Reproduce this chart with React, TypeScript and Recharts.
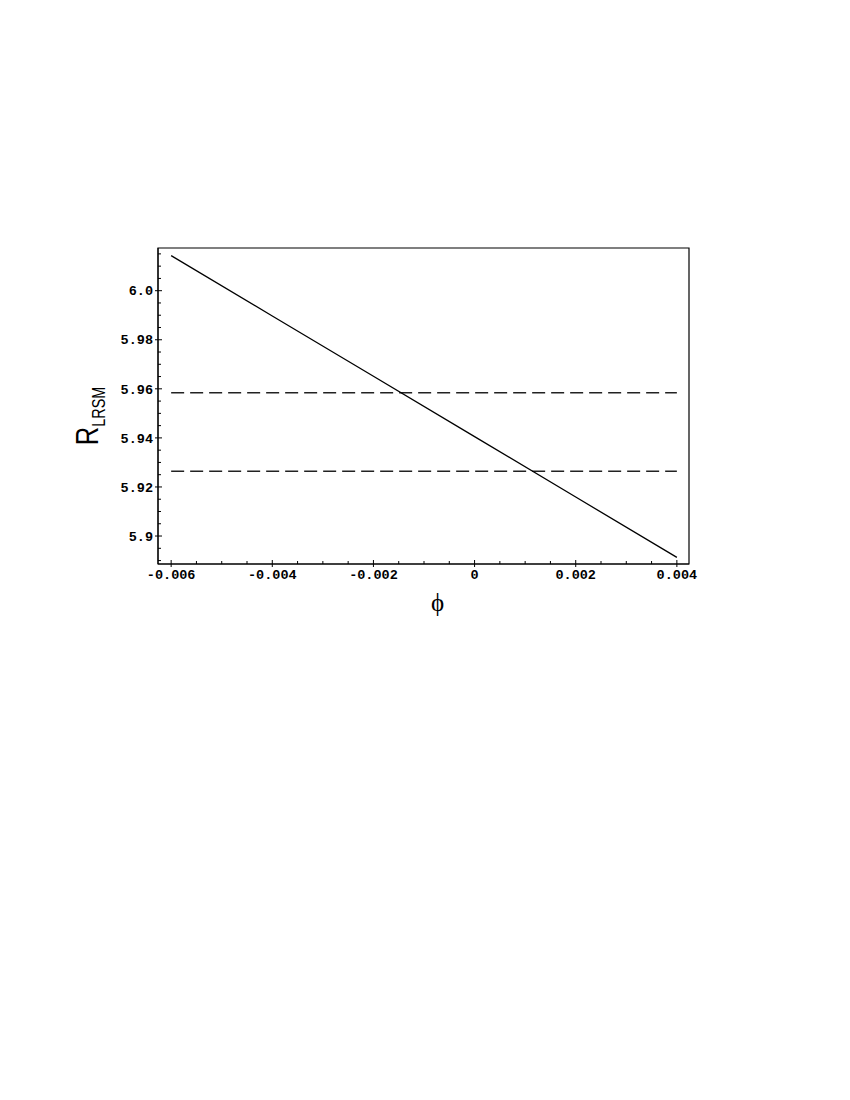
import React from 'react';
import { LineChart, Line, XAxis, YAxis, ReferenceArea } from 'recharts';

const phiValues = [-0.006, -0.004, -0.002, 0, 0.002, 0.004];
const rValues = [6.0143, 5.9897, 5.9651, 5.9405, 5.9159, 5.8913];

// the two horizontal bounds (dashed)
const boundX = [-0.006, 0.004];
const upperBound = 5.9584;
const lowerBound = 5.9264;

const xDomain: [number, number] = [-0.00626, 0.00424];
const yDomain: [number, number] = [5.8886, 6.0174];

const xMajorTicks = [-0.006, -0.004, -0.002, 0, 0.002, 0.004];
const xTickLabels = ['-0.006', '-0.004', '-0.002', '0', '0.002', '0.004'];
const yMajorTicks = [5.9, 5.92, 5.94, 5.96, 5.98, 6.0];
const yTickLabels = ['5.9', '5.92', '5.94', '5.96', '5.98', '6.0'];

// minor ticks: 4 per major step on x, 4 per major step on y
const xAllTicks: number[] = [];
for (let i = -12; i <= 8; i++) xAllTicks.push(Math.round(i * 5) / 10000);
const yAllTicks: number[] = [];
for (let i = 1178; i <= 1203; i++) yAllTicks.push(Math.round(i * 5) / 1000);

const curveData = phiValues.map((x, i) => ({ x, r: rValues[i] }));
const upperData = boundX.map(x => ({ x, r: upperBound }));
const lowerData = boundX.map(x => ({ x, r: lowerBound }));

const tickFont = { fontFamily: '"Liberation Mono", "DejaVu Sans Mono", monospace', fontWeight: 700, fontSize: 13.5 };

const majorIndex = (list: number[], v: number) => list.findIndex(t => Math.abs(t - v) < 1e-9);

const XTick = (props: any) => {
  const { x, y, payload } = props;
  const i = majorIndex(xMajorTicks, payload.value);
  const major = i >= 0;
  return (
    <g>
      <line x1={x} x2={x} y1={major ? y + 3 : y} y2={y - (major ? 4 : 3)} stroke="#000" strokeWidth={1} />
      {major && (
        <text x={x} y={y + 15} textAnchor="middle" fill="#000" style={tickFont}>
          {xTickLabels[i]}
        </text>
      )}
    </g>
  );
};

const YTick = (props: any) => {
  const { x, y, payload } = props;
  const i = majorIndex(yMajorTicks, payload.value);
  const major = i >= 0;
  return (
    <g>
      <line x1={major ? x - 3 : x} x2={x + (major ? 4 : 3)} y1={y} y2={y} stroke="#000" strokeWidth={1} />
      {major && (
        <text x={x - 5} y={y} dy="0.35em" textAnchor="end" fill="#000" style={tickFont}>
          {yTickLabels[i]}
        </text>
      )}
    </g>
  );
};

const YLabel = (props: any) => {
  const { viewBox } = props;
  const px = viewBox.x;
  const py = viewBox.y + viewBox.height / 2 + 10;
  // rotated, then squeezed along the reading direction to look like a narrow face
  return (
    <text
      x={px}
      y={py}
      transform={`rotate(-90, ${px}, ${py}) translate(${px}, ${py}) scale(0.8, 1) translate(${-px}, ${-py})`}
      textAnchor="middle"
      fill="#000"
      style={{ fontFamily: '"Liberation Sans", Arial, sans-serif' }}
    >
      <tspan fontSize={32}>R</tspan>
      <tspan fontSize={18} dy={7}>LRSM</tspan>
    </text>
  );
};

const XLabel = (props: any) => {
  const { viewBox } = props;
  return (
    <text
      x={viewBox.x + viewBox.width / 2 + 14}
      y={viewBox.y + 47}
      textAnchor="middle"
      fill="#000"
      style={{ fontFamily: '"Liberation Serif", "DejaVu Serif", serif', fontSize: 25 }}
    >
      ϕ
    </text>
  );
};

export default function App() {
  return (
    <div style={{ position: 'absolute', left: 0, top: 0, background: '#fff' }}>
      <LineChart width={850} height={700} margin={{ top: 248, right: 161, left: 98, bottom: 106 }}>
        <XAxis
          type="number"
          dataKey="x"
          domain={xDomain}
          allowDataOverflow
          ticks={xAllTicks}
          interval={0}
          tickSize={0}
          tickMargin={0}
          tickLine={false}
          axisLine={{ stroke: '#000' }}
          tick={XTick}
          height={30}
          label={{ content: XLabel }}
        />
        <YAxis
          type="number"
          dataKey="r"
          domain={yDomain}
          allowDataOverflow
          ticks={yAllTicks}
          interval={0}
          tickSize={0}
          tickMargin={0}
          tickLine={false}
          axisLine={{ stroke: '#000' }}
          tick={YTick}
          width={60}
          label={{ content: YLabel }}
        />
        <ReferenceArea
          x1={xDomain[0]}
          x2={xDomain[1]}
          y1={yDomain[0]}
          y2={yDomain[1]}
          fill="none"
          fillOpacity={0}
          stroke="#000"
          strokeWidth={1.2}
        />
        <Line data={upperData} dataKey="r" type="linear" stroke="#222" strokeWidth={1.3} strokeDasharray="13 6" dot={false} isAnimationActive={false} />
        <Line data={lowerData} dataKey="r" type="linear" stroke="#222" strokeWidth={1.3} strokeDasharray="13 6" dot={false} isAnimationActive={false} />
        <Line data={curveData} dataKey="r" type="linear" stroke="#000" strokeWidth={1.3} dot={false} isAnimationActive={false} />
      </LineChart>
    </div>
  );
}
